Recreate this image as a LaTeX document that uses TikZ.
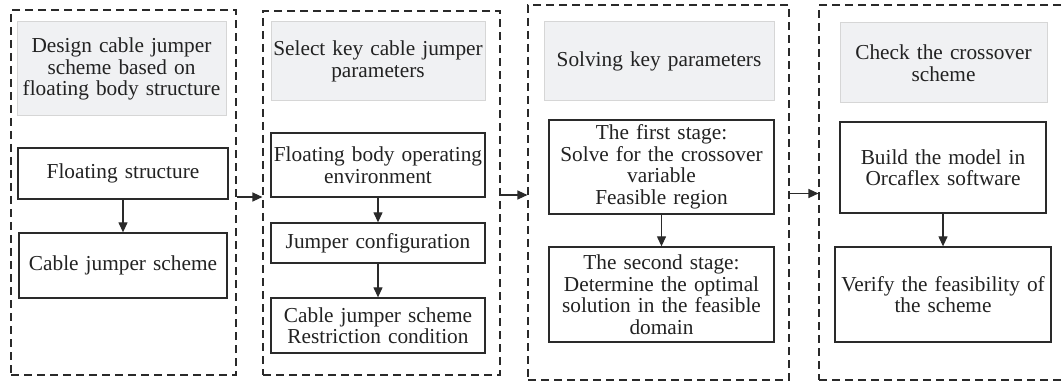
\documentclass[tikz,border=0pt]{standalone}
\usepackage{fontspec}
\setmainfont{Liberation Serif}
\usetikzlibrary{arrows.meta,calc}
\definecolor{txt}{HTML}{222222}
\definecolor{grayfill}{HTML}{F0F1F3}
\definecolor{grayline}{HTML}{D6D6D6}
\definecolor{lin}{HTML}{2A2A2A}
\tikzset{
  container/.style={draw=lin, line width=1.1pt, dash pattern=on 8pt off 5pt, inner sep=0pt},
  headbox/.style={draw=grayline, fill=grayfill, line width=1pt, inner sep=0pt, align=center, text=txt,
     font=\fontsize{21.3}{21.5}\selectfont},
  stepbox/.style={draw=lin, fill=white, line width=1.3pt, inner sep=0pt, align=center, text=txt,
     font=\fontsize{21.3}{21.5}\selectfont},
  flow/.style={draw=lin, line width=1.2pt, -{Triangle[length=10pt,width=9pt]}}
}
\begin{document}
\begin{tikzpicture}[x=1pt,y=-1pt]
\useasboundingbox (0,0) rectangle (1064,387);
\clip (0,0) rectangle (1064,387);
% containers
\node[container, minimum width=225pt, minimum height=365pt] (c1) at (123.5,192.5) {};
\node[container, minimum width=237pt, minimum height=364pt] (c2) at (381.5,193) {};
\node[container, minimum width=261pt, minimum height=375pt] (c3) at (658.5,192.5) {};
\node[container, minimum width=252pt, minimum height=375pt] (c4) at (945,192.5) {};
% headers
\node[headbox, minimum width=209pt, minimum height=94pt, text width=209pt] (g1) at (121.5,69) {Design cable jumper\\scheme based on\\floating body structure};
\node[headbox, minimum width=214pt, minimum height=79pt, text width=214pt] (g2) at (378,61.5) {Select key cable jumper\\parameters};
\node[headbox, minimum width=230pt, minimum height=79pt, text width=230pt] (g3) at (659,61.5) {Solving key parameters};
\node[headbox, minimum width=207pt, minimum height=80pt, text width=207pt] (g4) at (943.5,63) {Check the crossover\\scheme};
% steps
\node[stepbox, minimum width=210pt, minimum height=51pt, text width=210pt] (b1a) at (123,173.5) {Floating structure};
\node[stepbox, minimum width=208pt, minimum height=65pt, text width=208pt] (b1b) at (123,265.5) {Cable jumper scheme};
\node[stepbox, minimum width=214pt, minimum height=64pt, text width=214pt] (b2a) at (378,165) {Floating body operating\\environment};
\node[stepbox, minimum width=214pt, minimum height=40pt, text width=214pt] (b2b) at (378,243) {Jumper configuration};
\node[stepbox, minimum width=214pt, minimum height=55pt, text width=214pt] (b2c) at (378,325.5) {Cable jumper scheme\\Restriction condition};
\node[stepbox, minimum width=225pt, minimum height=94pt, text width=225pt] (b3a) at (661.5,167) {The first stage:\\Solve for the crossover\\variable\\Feasible region};
\node[stepbox, minimum width=225pt, minimum height=95pt, text width=225pt] (b3b) at (661.5,294.5) {The second stage:\\Determine the optimal\\solution in the feasible\\domain};
\node[stepbox, minimum width=206pt, minimum height=91pt, text width=206pt] (b4a) at (943,167.5) {Build the model in\\Orcaflex software};
\node[stepbox, minimum width=216pt, minimum height=95pt, text width=216pt] (b4b) at (943,294.5) {Verify the feasibility of\\the scheme};
% inner arrows
\draw[flow] (b1a.south) -- (b1b.north);
\draw[flow] (b2a.south) -- (b2b.north);
\draw[flow] (b2b.south) -- (b2c.north);
\draw[flow] (b3a.south) -- (b3b.north);
\draw[flow] (b4a.south) -- (b4b.north);
% container arrows
\coordinate (a1) at ($(c1.east)+(0,4.5)$);
\draw[flow] (a1) -- (a1 -| c2.west);
\coordinate (a2) at ($(c2.east)+(0,2)$);
\draw[flow] (a2) -- (a2 -| c3.west);
\coordinate (a3) at ($(c3.east)+(0,1)$);
\draw[flow] (a3) -- (a3 -| c4.west);
\end{tikzpicture}
\end{document}
